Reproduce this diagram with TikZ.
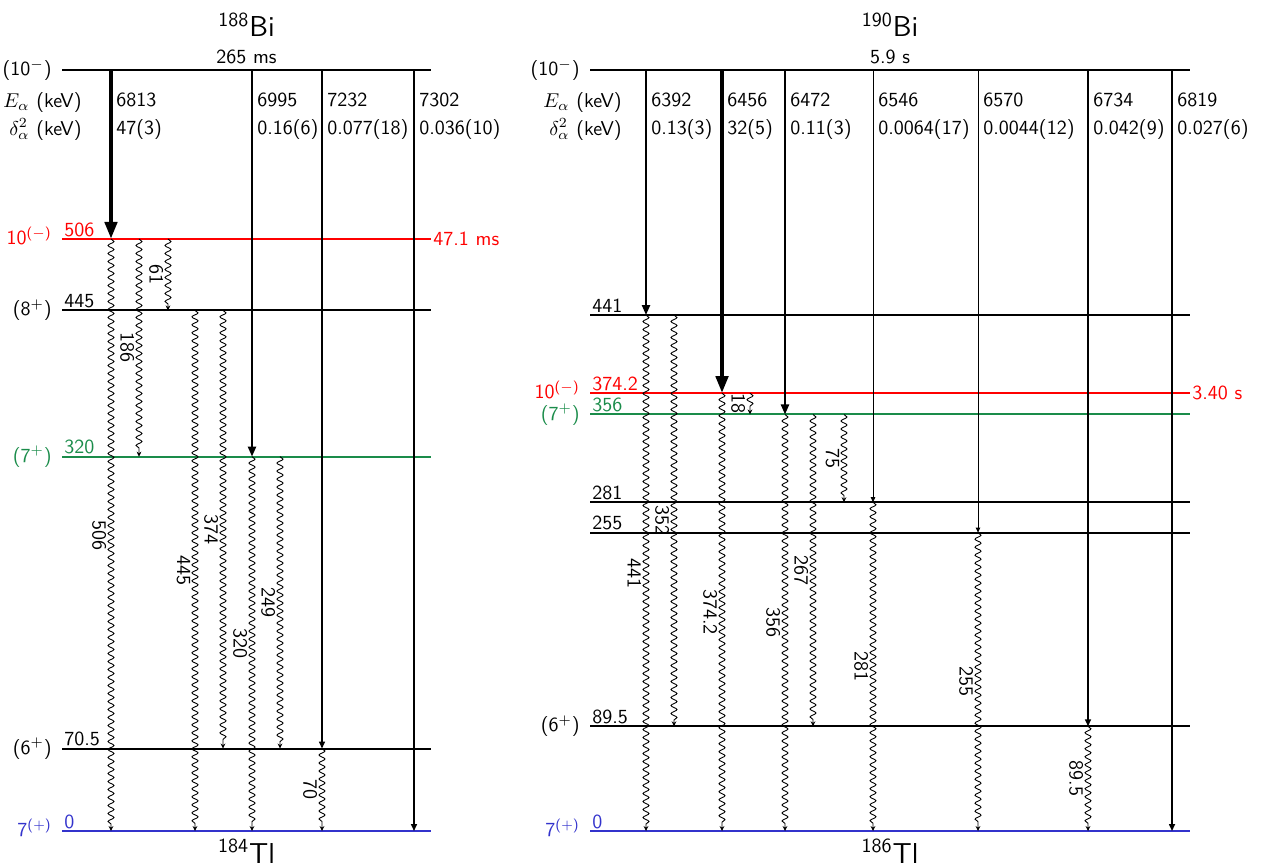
\documentclass[tikz,border=0pt]{standalone}
\usepackage{fontspec}
\usepackage{tikz}
\usetikzlibrary{arrows.meta,positioning,calc,decorations.pathmorphing}
\definecolor{hlred}{HTML}{FF0000}
\definecolor{hlgreen}{HTML}{1A8C4A}
\definecolor{hlblue}{HTML}{3333CC}
\tikzset{
  lvl/.style={draw=#1, line width=1pt},
  lvl/.default=black,
  alphaA/.style={-{Triangle[length=8.5pt,width=6pt]}, line width=2.2pt},
  alphaB/.style={-{Triangle[length=5pt,width=4pt]}, line width=1.1pt},
  alphaC/.style={-{Triangle[length=3.5pt,width=3pt]}, line width=0.75pt},
  alphaD/.style={-{Triangle[length=2.5pt,width=2.2pt]}, line width=0.45pt},
  gam/.style={-{Stealth[length=2.5pt,width=2.4pt]}, line width=0.45pt, decorate,
              decoration={snake, amplitude=1.5pt, segment length=4pt, post length=3pt}},
  glab/.style={midway, rotate=-90, anchor=north, inner sep=2.2pt},
  elab/.style={anchor=south west, inner sep=1pt, text=#1},
  elab/.default=black,
  jlab/.style={anchor=base east, xshift=-5pt, yshift=-2.8pt, inner sep=0pt, text=#1},
  jlab/.default=black,
  tlab/.style={anchor=west, inner sep=1pt, text=#1},
  qval/.style={anchor=west, inner sep=2.5pt, align=left},
  qhead/.style={anchor=east, inner sep=0pt, align=right},
  nuclab/.style={anchor=base, inner sep=0pt, font=\fontsize{14.4}{17}\selectfont\sffamily}
}
% level line: name, left x, right x, energy, colour
\newcommand{\lvline}[5]{%
  \coordinate (#1-L) at (#2,#4);
  \coordinate (#1-R) at (#3,#4);
  \draw[lvl=#5] (#1-L) -- (#1-R);}

\begin{document}
\begin{tikzpicture}[x=0.5pt, y=0.585pt, font=\fontsize{10}{14}\selectfont\sffamily]
  \useasboundingbox (0,-30.77) rectangle (1268,710.26);

  %% 188Bi -> 184Tl
  \lvline{aT}{62}{431}{650.4}{black}
  \lvline{a506}{62}{431}{506}{hlred}
  \lvline{a445}{62}{431}{445}{black}
  \lvline{a320}{62}{431}{320}{hlgreen}
  \lvline{a70}{62}{431}{70.5}{black}
  \lvline{aG}{62}{431}{0}{hlblue}
  \foreach \c/\x in {1/111,2/139,3/168,4/195,5/223,6/252,7/280,8/322,9/414}
    \coordinate (ca\c) at (\x,0);

  \node[nuclab] (bi188) at ($(aT-L)!0.5!(aT-R)+(0,28.5)$) {\textsuperscript{188}Bi};
  \node[anchor=south, inner sep=3pt] (hl188) at ($(aT-L)!0.5!(aT-R)$) {265 ms};
  \node[nuclab] (tl184) at ($(aG-L)!0.5!(aG-R)+(0,-27.4)$) {\textsuperscript{184}Tl};

  \node[jlab] (ja0) at (aT-L) {(10$^-$)};
  \node[jlab=hlred] (ja1) at (a506-L) {10\textsuperscript{($-$)}};
  \node[jlab] (ja2) at (a445-L) {(8$^+$)};
  \node[jlab=hlgreen] (ja3) at (a320-L) {(7$^+$)};
  \node[jlab] (ja4) at (a70-L) {(6$^+$)};
  \node[jlab=hlblue] (ja5) at (aG-L) {7\textsuperscript{(+)}};
  \node[elab=hlred] (ea1) at (a506-L) {506};
  \node[elab] (ea2) at (a445-L) {445};
  \node[elab=hlgreen] (ea3) at (a320-L) {320};
  \node[elab] (ea4) at (a70-L) {70.5};
  \node[elab=hlblue] (ea5) at (aG-L) {0};
  \node[tlab=hlred] (ta1) at (a506-R) {47.1 ms};

  \coordinate (aQ) at (82,611.1);
  \node[qhead] (qa0) at (aQ) {$E_\alpha$ (keV)\\$\delta^2_\alpha$ (keV)};
  \node[qval] (qa1) at (ca1 |- aQ) {6813\\47(3)};
  \node[qval] (qa2) at (ca6 |- aQ) {6995\\0.16(6)};
  \node[qval] (qa3) at (ca8 |- aQ) {7232\\0.077(18)};
  \node[qval] (qa4) at (ca9 |- aQ) {7302\\0.036(10)};

  \draw[alphaA] (ca1 |- aT-L) -- (ca1 |- a506-L);
  \draw[alphaB] (ca6 |- aT-L) -- (ca6 |- a320-L);
  \draw[alphaC] (ca8 |- aT-L) -- (ca8 |- a70-L);
  \draw[alphaC] (ca9 |- aT-L) -- (ca9 |- aG-L);

  \draw[gam] (ca1 |- a506-L) -- (ca1 |- aG-L) node[glab] (ga1) {506};
  \draw[gam] (ca2 |- a506-L) -- (ca2 |- a320-L) node[glab] (ga2) {186};
  \draw[gam] (ca3 |- a506-L) -- (ca3 |- a445-L) node[glab] (ga3) {61};
  \draw[gam] (ca4 |- a445-L) -- (ca4 |- aG-L) node[glab] (ga4) {445};
  \draw[gam] (ca5 |- a445-L) -- (ca5 |- a70-L) node[glab] (ga5) {374};
  \draw[gam] (ca6 |- a320-L) -- (ca6 |- aG-L) node[glab] (ga6) {320};
  \draw[gam] (ca7 |- a320-L) -- (ca7 |- a70-L) node[glab] (ga7) {249};
  \draw[gam] (ca8 |- a70-L) -- (ca8 |- aG-L) node[glab] (ga8) {70};

  %% 190Bi -> 186Tl
  \lvline{bT}{590}{1190}{650.4}{black}
  \lvline{b441}{590}{1190}{441}{black}
  \lvline{b374}{590}{1190}{374.2}{hlred}
  \lvline{b356}{590}{1190}{356}{hlgreen}
  \lvline{b281}{590}{1190}{281}{black}
  \lvline{b255}{590}{1190}{255}{black}
  \lvline{b89}{590}{1190}{89.5}{black}
  \lvline{bG}{590}{1190}{0}{hlblue}
  \foreach \c/\x in {1/646,2/674,3/722,4/750,5/785,6/813,7/844,8/873,9/978,10/1088,11/1172}
    \coordinate (cb\c) at (\x,0);

  \node[nuclab] (bi190) at ($(bT-L)!0.5!(bT-R)+(0,28.5)$) {\textsuperscript{190}Bi};
  \node[anchor=south, inner sep=3pt] (hl190) at ($(bT-L)!0.5!(bT-R)$) {5.9 s};
  \node[nuclab] (tl186) at ($(bG-L)!0.5!(bG-R)+(0,-27.4)$) {\textsuperscript{186}Tl};

  \node[jlab] (jb0) at (bT-L) {(10$^-$)};
  \node[jlab=hlred] (jb1) at (b374-L) {10\textsuperscript{($-$)}};
  \node[jlab=hlgreen] (jb2) at (b356-L) {(7$^+$)};
  \node[jlab] (jb3) at (b89-L) {(6$^+$)};
  \node[jlab=hlblue] (jb4) at (bG-L) {7\textsuperscript{(+)}};
  \node[elab] (eb1) at (b441-L) {441};
  \node[elab=hlred] (eb2) at (b374-L) {374.2};
  \node[elab=hlgreen] (eb3) at (b356-L) {356};
  \node[elab] (eb4) at (b281-L) {281};
  \node[elab] (eb5) at (b255-L) {255};
  \node[elab] (eb6) at (b89-L) {89.5};
  \node[elab=hlblue] (eb7) at (bG-L) {0};
  \node[tlab=hlred] (tb1) at (b374-R) {3.40 s};

  \coordinate (bQ) at (622,611.1);
  \node[qhead] (qb0) at (bQ) {$E_\alpha$ (keV)\\$\delta^2_\alpha$ (keV)};
  \node[qval] (qb1) at (cb1 |- bQ) {6392\\0.13(3)};
  \node[qval] (qb2) at (cb3 |- bQ) {6456\\32(5)};
  \node[qval] (qb3) at (cb5 |- bQ) {6472\\0.11(3)};
  \node[qval] (qb4) at (cb8 |- bQ) {6546\\0.0064(17)};
  \node[qval] (qb5) at (cb9 |- bQ) {6570\\0.0044(12)};
  \node[qval] (qb6) at (cb10 |- bQ) {6734\\0.042(9)};
  \node[qval] (qb7) at (cb11 |- bQ) {6819\\0.027(6)};

  \draw[alphaB] (cb1 |- bT-L) -- (cb1 |- b441-L);
  \draw[alphaA] (cb3 |- bT-L) -- (cb3 |- b374-L);
  \draw[alphaB] (cb5 |- bT-L) -- (cb5 |- b356-L);
  \draw[alphaD] (cb8 |- bT-L) -- (cb8 |- b281-L);
  \draw[alphaD] (cb9 |- bT-L) -- (cb9 |- b255-L);
  \draw[alphaC] (cb10 |- bT-L) -- (cb10 |- b89-L);
  \draw[alphaC] (cb11 |- bT-L) -- (cb11 |- bG-L);

  \draw[gam] (cb1 |- b441-L) -- (cb1 |- bG-L) node[glab] (gb1) {441};
  \draw[gam] (cb2 |- b441-L) -- (cb2 |- b89-L) node[glab] (gb2) {352};
  \draw[gam] (cb3 |- b374-L) -- (cb3 |- bG-L) node[glab] (gb3) {374.2};
  \draw[gam] (cb4 |- b374-L) -- (cb4 |- b356-L) node[glab] (gb4) {18};
  \draw[gam] (cb5 |- b356-L) -- (cb5 |- bG-L) node[glab] (gb5) {356};
  \draw[gam] (cb6 |- b356-L) -- (cb6 |- b89-L) node[glab] (gb6) {267};
  \draw[gam] (cb7 |- b356-L) -- (cb7 |- b281-L) node[glab] (gb7) {75};
  \draw[gam] (cb8 |- b281-L) -- (cb8 |- bG-L) node[glab] (gb8) {281};
  \draw[gam] (cb9 |- b255-L) -- (cb9 |- bG-L) node[glab] (gb9) {255};
  \draw[gam] (cb10 |- b89-L) -- (cb10 |- bG-L) node[glab] (gb10) {89.5};
\end{tikzpicture}
\end{document}
